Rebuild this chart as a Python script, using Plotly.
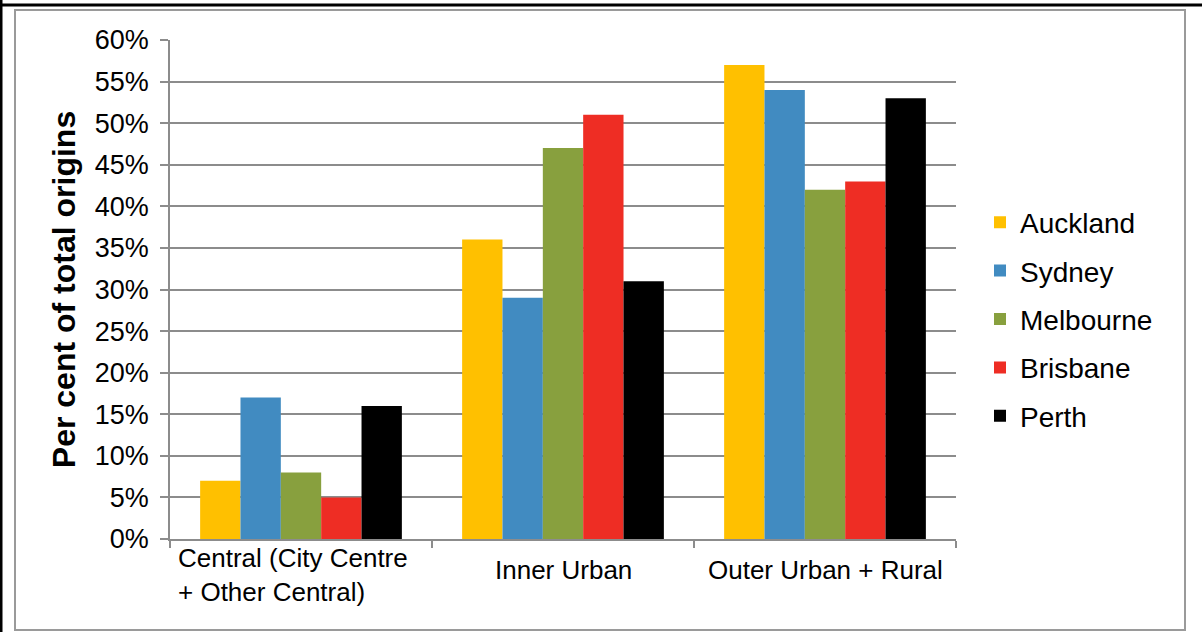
import plotly.graph_objects as go

categories = ["Central (City Centre<br>+ Other Central)", "Inner Urban", "Outer Urban + Rural"]
cat_keys = ["Central", "Inner Urban", "Outer Urban + Rural"]
series_names = ["Auckland", "Sydney", "Melbourne", "Brisbane", "Perth"]
auckland = [0.07, 0.36, 0.57]
sydney = [0.17, 0.29, 0.54]
melbourne = [0.08, 0.47, 0.42]
brisbane = [0.05, 0.51, 0.43]
perth = [0.16, 0.31, 0.53]
colors = ["#FFC000", "#418BC1", "#88A03E", "#EE2D24", "#000000"]
y_ticks = [0, 0.05, 0.10, 0.15, 0.20, 0.25, 0.30, 0.35, 0.40, 0.45, 0.50, 0.55, 0.60]

FONT = "Liberation Sans, Arial, sans-serif"
W, H = 1202, 632
L, R, T, B = 170, 246, 40, 93
pw, ph = W - L - R, H - T - B

def px_x(px):
    return (px - L) / pw

def px_y(py):
    return (H - B - py) / ph

fig = go.Figure()
for name, vals, col in zip(series_names, [auckland, sydney, melbourne, brisbane, perth], colors):
    fig.add_trace(go.Bar(x=cat_keys, y=vals, name=name, marker_color=col,
                         marker_line_width=0, legendgroup=name))

grid_col = "#8C8C8C"
fig.update_layout(
    width=W, height=H,
    margin=dict(l=L, r=R, t=T, b=B),
    paper_bgcolor="white", plot_bgcolor="white",
    barmode="group", bargap=0.23, bargroupgap=0,
    font=dict(family=FONT, color="black"),
    showlegend=True,
    legend=dict(x=px_x(980), xanchor="left", y=px_y(319), yanchor="middle",
                font=dict(size=28, family=FONT), tracegroupgap=9,
                bgcolor="rgba(0,0,0,0)"),
)
fig.update_xaxes(
    type="category", showticklabels=False,
    showline=True, linecolor=grid_col, linewidth=1.5,
    ticks="outside", tickson="boundaries", ticklen=7, tickcolor=grid_col, tickwidth=1.5,
    showgrid=False, range=[-0.5, 2.5],
)
fig.update_yaxes(
    range=[0, 0.6], tickvals=y_ticks, tickformat=".0%",
    tickfont=dict(size=27, family=FONT), ticklabelstandoff=6,
    showgrid=True, gridcolor=grid_col, gridwidth=1.5,
    showline=True, linecolor=grid_col, linewidth=1.5,
    ticks="outside", ticklen=8, tickcolor=grid_col, tickwidth=1.5,
    zeroline=False,
    title=dict(text="<b>Per cent of total origins</b>", font=dict(size=32, family=FONT), standoff=10),
)

# category labels
fig.add_annotation(x=cat_keys[0], y=px_y(575), xref="x", yref="paper", text=categories[0],
                   showarrow=False, align="left", xanchor="center", yanchor="middle",
                   xshift=-8, font=dict(size=26, family=FONT))
for k in cat_keys[1:]:
    fig.add_annotation(x=k, y=px_y(570), xref="x", yref="paper", text=k,
                       showarrow=False, xanchor="center", yanchor="middle",
                       font=dict(size=26, family=FONT))

# frames
fig.add_shape(type="rect", xref="paper", yref="paper",
              x0=px_x(15), x1=px_x(1185), y0=px_y(630), y1=px_y(10),
              line=dict(color="#9A9A9A", width=2), fillcolor="rgba(0,0,0,0)", layer="below")
fig.add_shape(type="line", xref="paper", yref="paper",
              x0=px_x(0), x1=px_x(1202), y0=px_y(5), y1=px_y(5),
              line=dict(color="black", width=3))
fig.add_shape(type="line", xref="paper", yref="paper",
              x0=px_x(1), x1=px_x(1), y0=px_y(0), y1=px_y(632),
              line=dict(color="black", width=3))

fig.write_html("out.html", config={"displayModeBar": False},
               post_script="document.body.style.margin='0';document.body.style.padding='0';document.body.style.overflow='hidden';")
